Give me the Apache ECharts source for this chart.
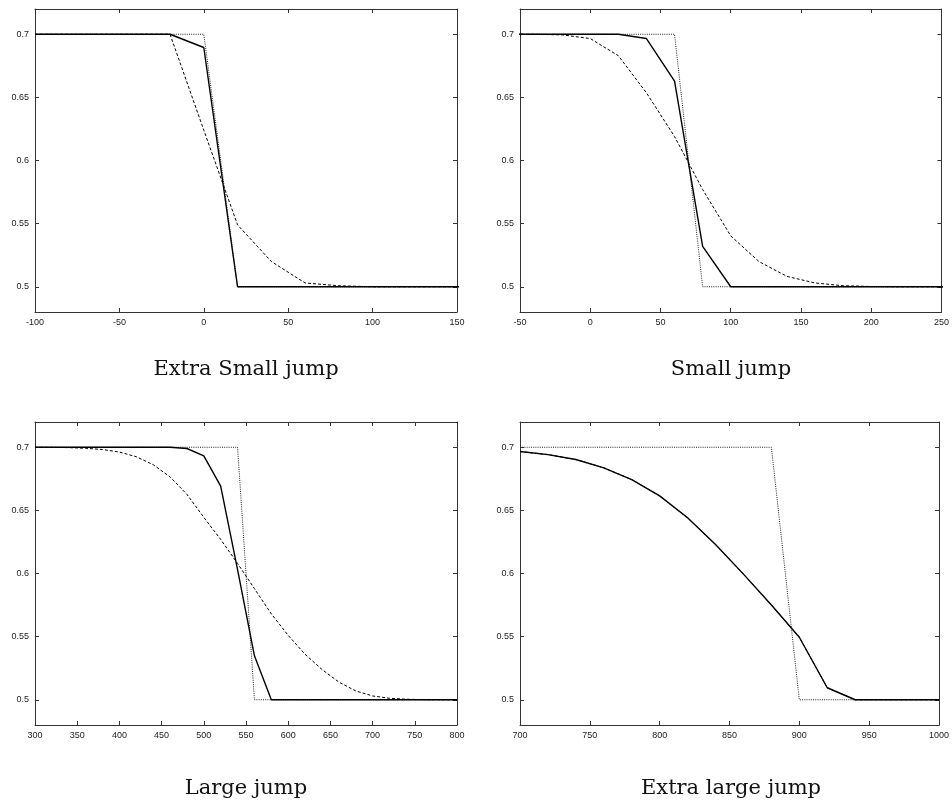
<!DOCTYPE html>
<html>
<head>
<meta charset="utf-8">
<script src="https://cdn.jsdelivr.net/npm/echarts@6/dist/echarts.min.js"></script>
<style>
  html, body { margin: 0; padding: 0; background: #fff; }
  #chart { width: 952px; height: 802px; }
</style>
</head>
<body>
<div id="chart"></div>
<script>
// ---------- Data ----------
const yTicks = [0.5, 0.55, 0.6, 0.65, 0.7];
const titles = ['Extra Small jump', 'Small jump', 'Large jump', 'Extra large jump'];

// Extra Small jump
const xsX      = [-100, -80, -60, -40, -20, 0, 20, 40, 60, 80, 100, 120, 140, 160];
const xsSolid  = [0.7, 0.7, 0.7, 0.7, 0.7, 0.6895, 0.5, 0.5, 0.5, 0.5, 0.5, 0.5, 0.5, 0.5];
const xsDashed = [0.7, 0.7, 0.7, 0.7, 0.7, 0.624, 0.549, 0.52, 0.503, 0.5008, 0.5, 0.5, 0.5, 0.5];
const xsDotted = [0.7, 0.7, 0.7, 0.7, 0.7, 0.7, 0.5, 0.5, 0.5, 0.5, 0.5, 0.5, 0.5, 0.5];

// Small jump
const smX      = [-60, -40, -20, 0, 20, 40, 60, 80, 100, 120, 140, 160, 180, 200, 220, 240, 260];
const smSolid  = [0.7, 0.7, 0.7, 0.7, 0.7, 0.6966, 0.6628, 0.532, 0.5, 0.5, 0.5, 0.5, 0.5, 0.5, 0.5, 0.5, 0.5];
const smDashed = [0.7, 0.7, 0.6995, 0.6966, 0.683, 0.6536, 0.619, 0.577, 0.5403, 0.52, 0.5082, 0.503, 0.5008, 0.5002, 0.5, 0.5, 0.5];
const smDotted = [0.7, 0.7, 0.7, 0.7, 0.7, 0.7, 0.7, 0.5, 0.5, 0.5, 0.5, 0.5, 0.5, 0.5, 0.5, 0.5, 0.5];

// Large jump
const lgX      = [300, 320, 340, 360, 380, 400, 420, 440, 460, 480, 500, 520, 540, 560, 580, 600, 620, 640, 660, 680, 700, 720, 740, 760, 780, 800];
const lgSolid  = [0.7, 0.7, 0.7, 0.7, 0.7, 0.7, 0.7, 0.7, 0.7, 0.699, 0.6931, 0.6692, 0.603, 0.5348, 0.5, 0.5, 0.5, 0.5, 0.5, 0.5, 0.5, 0.5, 0.5, 0.5, 0.5, 0.5];
const lgDashed = [0.7, 0.6999, 0.6997, 0.6992, 0.6982, 0.6962, 0.6925, 0.6862, 0.6765, 0.6627, 0.6445, 0.627, 0.608, 0.588, 0.568, 0.551, 0.536, 0.524, 0.514, 0.507, 0.503, 0.5012, 0.5004, 0.5001, 0.5, 0.5];
const lgDotted = [0.7, 0.7, 0.7, 0.7, 0.7, 0.7, 0.7, 0.7, 0.7, 0.7, 0.7, 0.7, 0.7, 0.5, 0.5, 0.5, 0.5, 0.5, 0.5, 0.5, 0.5, 0.5, 0.5, 0.5, 0.5, 0.5];

// Extra large jump
const xlX      = [700, 720, 740, 760, 780, 800, 820, 840, 860, 880, 900, 920, 940, 960, 980, 1000];
const xlSolid  = [0.6966, 0.6942, 0.6903, 0.6837, 0.6744, 0.6615, 0.6441, 0.623, 0.5995, 0.5751, 0.5495, 0.5095, 0.5, 0.5, 0.5, 0.5];
const xlDashed = [0.6966, 0.6942, 0.6903, 0.6837, 0.6744, 0.6615, 0.6441, 0.623, 0.5995, 0.5751, 0.5495, 0.5095, 0.5, 0.5, 0.5, 0.5];
const xlDotted = [0.7, 0.7, 0.7, 0.7, 0.7, 0.7, 0.7, 0.7, 0.7, 0.7, 0.5, 0.5, 0.5, 0.5, 0.5, 0.5];

const xRanges = [[-100, 150], [-50, 250], [300, 800], [700, 1000]];
const yRange = [0.48, 0.72];
const xStep = 50;

// ---------- Layout / styling ----------
const panels = [
  { x: xsX, s: xsSolid, d: xsDashed, o: xsDotted },
  { x: smX, s: smSolid, d: smDashed, o: smDotted },
  { x: lgX, s: lgSolid, d: lgDashed, o: lgDotted },
  { x: xlX, s: xlSolid, d: xlDashed, o: xlDotted }
];
const gridPos = [
  { left: 35, top: 9 },
  { left: 520, top: 9 },
  { left: 35, top: 422 },
  { left: 520, top: 422 }
];
const GW = 422, GH = 303;
const titleY = [370, 370, 789, 789];

const axisColor = '#333';
const labelFont = { fontFamily: '"Liberation Sans", Arial, sans-serif', fontSize: 9, color: '#222' };
const numFmt = v => String(Math.round(v * 1000) / 1000);

const grids = [], xAxes = [], yAxes = [], series = [], graphics = [];
const zip = (xs, ys) => xs.map((v, i) => [v, ys[i]]);

panels.forEach((p, i) => {
  const g = gridPos[i];
  grids.push({ left: g.left, top: g.top, width: GW, height: GH, containLabel: false, show: false });
  const baseX = xAxes.length, baseY = yAxes.length;
  const xCommon = {
    type: 'value', gridIndex: i, min: xRanges[i][0], max: xRanges[i][1], interval: xStep,
    splitLine: { show: false },
    axisLine: { show: true, onZero: false, lineStyle: { color: axisColor, width: 1 } },
    axisTick: { show: true, inside: true, length: 4, lineStyle: { color: axisColor, width: 1 } }
  };
  xAxes.push(Object.assign({}, xCommon, {
    position: 'bottom',
    axisLabel: Object.assign({ show: true, margin: 6, showMinLabel: true, showMaxLabel: true, hideOverlap: false, formatter: numFmt }, labelFont)
  }));
  xAxes.push(Object.assign({}, xCommon, { position: 'top', axisLabel: { show: false } }));
  const yCommon = {
    type: 'value', gridIndex: i, min: yRange[0], max: yRange[1],
    splitLine: { show: false },
    axisLine: { show: true, onZero: false, lineStyle: { color: axisColor, width: 1 } },
    axisTick: { show: true, inside: true, length: 4, customValues: yTicks, lineStyle: { color: axisColor, width: 1 } }
  };
  yAxes.push(Object.assign({}, yCommon, {
    position: 'left',
    axisLabel: Object.assign({ show: true, margin: 6, customValues: yTicks, formatter: numFmt }, labelFont)
  }));
  yAxes.push(Object.assign({}, yCommon, { position: 'right', axisLabel: { show: false } }));

  const common = { type: 'line', xAxisIndex: baseX, yAxisIndex: baseY, symbol: 'none', silent: true, clip: true, animation: false };
  series.push(Object.assign({}, common, { name: 'dotted' + i, data: zip(p.x, p.o), lineStyle: { color: '#222', width: 1, type: [1, 1.2] }, z: 2 }));
  series.push(Object.assign({}, common, { name: 'dashed' + i, data: zip(p.x, p.d), lineStyle: { color: '#000', width: 1, type: [3, 2] }, z: 3 }));
  series.push(Object.assign({}, common, { name: 'solid' + i, data: zip(p.x, p.s), lineStyle: { color: '#000', width: 1.4, type: 'solid' }, z: 4 }));

  graphics.push({
    type: 'text', x: g.left + GW / 2, y: titleY[i],
    style: {
      text: titles[i], fill: '#111',
      fontFamily: '"DejaVu Serif", serif', fontSize: 21,
      align: 'center', verticalAlign: 'middle',
      textAlign: 'center', textVerticalAlign: 'middle'
    }
  });
});

const chart = echarts.init(document.getElementById('chart'), null, { renderer: 'canvas' });
chart.setOption({
  animation: false,
  backgroundColor: '#fff',
  grid: grids,
  xAxis: xAxes,
  yAxis: yAxes,
  series: series,
  graphic: graphics
});
</script>
</body>
</html>
